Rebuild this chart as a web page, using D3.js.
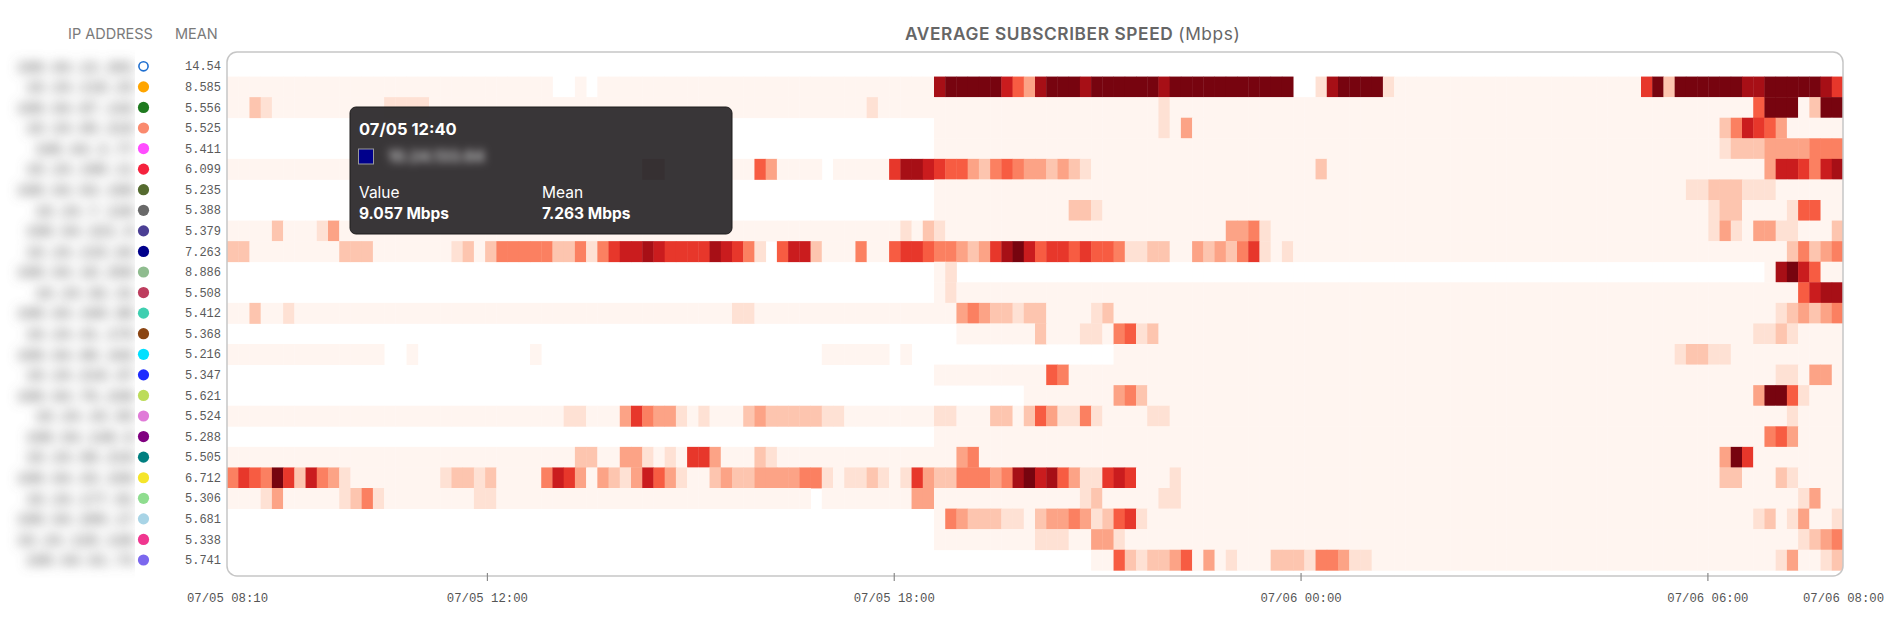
<!DOCTYPE html>
<html>
<head>
<meta charset="utf-8">
<script src="https://cdn.jsdelivr.net/npm/d3@7"></script>
<style>
  html, body { margin: 0; padding: 0; background: #fff; }
  svg { display: block; }
</style>
</head>
<body>
<div id="chart"></div>
<script>
// Heatmap of average subscriber speed, one row per IP, one cell per 10 minutes

// row labels (blurred in the picture)
const ipNames = [
  "100.64.12.201", "10.24.118.23", "100.64.87.142", "10.24.65.210", "100.64.3.77",
  "10.24.190.11", "100.64.54.199", "10.24.7.128", "100.64.221.9", "10.24.133.64",
  "100.64.18.250", "10.24.92.31", "100.64.160.88", "10.24.41.175", "100.64.99.102",
  "10.24.210.47", "100.64.76.230", "10.24.15.93", "100.64.140.6", "10.24.58.219",
  "100.64.33.150", "10.24.177.81", "100.64.205.17", "10.24.120.140", "100.64.61.73"
];
const means = [14.54, 8.585, 5.556, 5.525, 5.411, 6.099, 5.235, 5.388, 5.379, 7.263,
  8.886, 5.508, 5.412, 5.368, 5.216, 5.347, 5.621, 5.524, 5.288, 5.505,
  6.712, 5.306, 5.681, 5.338, 5.741];
const dotColors = ["none", "#ffa500", "#1f7a1f", "#fa8a6e", "#ff4dff", "#f5223d", "#556b2f",
  "#696969", "#4b3f94", "#00008b", "#8fbc8f", "#bd3d5e", "#3ecfb0", "#8b4513", "#00e0ff",
  "#1e2bff", "#bcdc5a", "#e07bd8", "#800080", "#007f80", "#f5e52a", "#8fdd8f", "#a8d4e6",
  "#f0368f", "#7b68ee"];

// time slots: 07/05 08:10 .. 07/06 08:00, every 10 minutes
const startTime = new Date(2024, 6, 5, 8, 10);
const endTime = new Date(2024, 6, 6, 8, 0);
const tickTimes = [startTime, new Date(2024, 6, 5, 12, 0), new Date(2024, 6, 5, 18, 0),
  new Date(2024, 6, 6, 0, 0), new Date(2024, 6, 6, 6, 0), endTime];

// speed level per cell (0 = lowest ... 9 = highest, "." = no sample)
// each row is 12 blocks of 2 hours (12 slots)
const Z = "000000000000";
const D = "............";
const levelRows = [
  [D, D, D, D, D, D, D, D, D, D, D, D],
  [Z, Z, "00000..0.000", Z, Z, "000899999753", "899989999998", "99999999999.", ".18999910000", Z, "000000692999", "999889999986"],
  ["002100000000", "001111000000", Z, Z, "000000000100", Z, "000000000001", Z, Z, Z, Z, "000059990299"],
  [D, D, D, D, D, "...000000000", "000000000001", "030000000000", Z, Z, Z, "024765300000"],
  [D, D, D, D, D, "...000000000", Z, Z, Z, Z, Z, "012223333444"],
  [Z, Z, Z, "099000000005", "30000.000006", "887655324543", "323210000000", Z, "020000000000", Z, Z, "000003776478"],
  [D, D, D, D, D, "...000000000", Z, Z, Z, Z, "000000000011", "222111000000"],
  [D, D, D, D, D, "...000000000", "000221000000", Z, Z, Z, Z, "122000015500"],
  ["000020001300", Z, Z, Z, Z, "102100000000", Z, "000003341000", Z, Z, Z, "131033110002"],
  ["220000000022", "200000001202", "444442241467", "787666687641", ".57720004005", "665443236897", "566565541122", "003232461010", Z, Z, Z, "000000024234"],
  [D, D, D, D, D, "...01.......", D, D, D, D, D, ".....0897500"],
  [D, D, D, D, D, "...010000000", Z, Z, Z, Z, Z, "000000005788"],
  ["002001000000", Z, Z, "000000000110", Z, "000003432212", "200001200000", Z, Z, Z, Z, "000000123234"],
  [D, D, D, D, D, ".....0000000", "200011045120", Z, Z, Z, Z, "000011210000"],
  [Z, "00..0.......", "...0........", D, ".....000000.", "0...........", ".......00000", Z, Z, Z, "000000000122", "110000000000"],
  [D, D, D, D, D, "...000000000", "054000000000", Z, Z, Z, Z, "000000110330"],
  [D, D, D, D, D, "...........0", "000000034200", Z, Z, Z, Z, "000039951000"],
  [Z, Z, "000000110003", "643310100023", "222221100000", "000110002202", "531141000011", Z, Z, Z, Z, "000000010000"],
  [D, D, D, D, D, "...000000000", Z, Z, Z, Z, Z, "000004530000"],
  [Z, Z, "000000022003", "310106630002", "100000000000", "000003400000", Z, Z, Z, Z, Z, "039600000000"],
  ["465496274310", "000000012212", "000047630321", "375310023223", "333441011210", "163224443489", "785311676000", "100000000000", Z, Z, Z, "022000210000"],
  ["000130000012", "410000000011", Z, Z, "0000.0000000", "033000000000", "000012000001", "100000000000", Z, Z, Z, "000000001300"],
  [D, D, D, D, D, "...043222110", "233431256100", Z, Z, Z, Z, "000012013001"],
  [D, D, D, D, D, "...000000000", "111003310000", Z, Z, Z, Z, "000000001234"],
  [D, D, D, D, D, D, ".....0052122", "350301000222", "144311000000", Z, Z, "000000130012"]
];

// hovered cell shown in the tooltip
const tipRow = 9;
const tipTime = "07/05 12:40";
const tipValue = "9.057 Mbps";
const tipIp = "10.24.133.64";

const W = 1889, H = 628;
const plot = { left: 227, right: 1843, top: 52, bottom: 576 };

const slots = d3.timeMinute.every(10).range(startTime, d3.timeMinute.offset(endTime, 1));
const rows = levelRows.map(function (blocks) {
  const s = blocks.join("");
  if (s.length !== slots.length) console.warn("row length", s.length);
  return s.split("").map(function (c) { return c === "." ? null : +c; });
});

const svg = d3.select("#chart").append("svg")
  .attr("width", W).attr("height", H);

const defs = svg.append("defs");
defs.append("clipPath").attr("id", "plotClip")
  .append("rect")
  .attr("x", plot.left).attr("y", plot.top)
  .attr("width", plot.right - plot.left).attr("height", plot.bottom - plot.top)
  .attr("rx", 10);
defs.append("clipPath").attr("id", "nameClip")
  .append("rect").attr("x", 0).attr("y", 40).attr("width", 135).attr("height", 540);
defs.append("filter").attr("id", "blur")
  .attr("filterUnits", "userSpaceOnUse")
  .attr("x", 0).attr("y", 40).attr("width", 160).attr("height", 560)
  .append("feGaussianBlur").attr("stdDeviation", 6);
defs.append("filter").attr("id", "blurTip")
  .attr("x", "-30%").attr("y", "-80%").attr("width", "160%").attr("height", "260%")
  .append("feGaussianBlur").attr("stdDeviation", 4.5);

// scales
const x = d3.scaleBand().domain(d3.range(slots.length)).range([plot.left, plot.right]);
const y = d3.scaleBand().domain(d3.range(ipNames.length)).range([56, 570.3]);
const xTime = d3.scaleTime().domain([startTime, endTime]).range([plot.left, plot.right]);
const color = d3.scaleSequential(d3.interpolateReds).domain([0, 9.3]);

// headers and title
svg.append("text").attr("x", 68).attr("y", 39)
  .style("font", "400 14.5px Inter, 'Noto Sans', sans-serif").style("fill", "#7a7a7a")
  .text("IP ADDRESS");
svg.append("text").attr("x", 175).attr("y", 39)
  .style("font", "400 14.5px Inter, 'Noto Sans', sans-serif").style("fill", "#7a7a7a")
  .text("MEAN");
const title = svg.append("text").attr("x", 905).attr("y", 40)
  .style("font", "600 17.3px Inter, 'Noto Sans', sans-serif").style("fill", "#666")
  .style("letter-spacing", "0.6px");
title.append("tspan").text("AVERAGE SUBSCRIBER SPEED ");
title.append("tspan").style("font-weight", 400).text("(Mbps)");

// heatmap cells
const cells = [];
rows.forEach(function (r, i) {
  r.forEach(function (v, j) { if (v !== null) cells.push({ row: i, col: j, v: v }); });
});
svg.append("g").attr("clip-path", "url(#plotClip)")
  .selectAll("rect")
  .data(cells).enter()
  .append("rect")
  .attr("x", function (d) { return x(d.col); })
  .attr("y", function (d) { return y(d.row); })
  .attr("width", x.bandwidth() + 0.4)
  .attr("height", y.bandwidth() + 0.4)
  .style("fill", function (d) { return color(d.v); });

svg.append("rect")
  .attr("x", plot.left).attr("y", plot.top)
  .attr("width", plot.right - plot.left).attr("height", plot.bottom - plot.top)
  .attr("rx", 10)
  .style("fill", "none").style("stroke", "#c6c6c6").style("stroke-width", 1.5);

// row labels: blurred ip, colour dot, mean
const rowCenter = function (i) { return y(i) + y.bandwidth() / 2; };

svg.append("g").attr("clip-path", "url(#nameClip)")
  .append("g").attr("filter", "url(#blur)")
  .selectAll("text")
  .data(ipNames).enter()
  .append("text")
  .attr("x", 134)
  .attr("y", function (d, i) { return rowCenter(i); })
  .attr("dy", "0.35em")
  .attr("text-anchor", "end")
  .style("font", "600 15px 'Liberation Mono', monospace")
  .style("fill", "#6e6e6e")
  .text(function (d) { return d; });

svg.append("g")
  .selectAll("circle")
  .data(dotColors).enter()
  .append("circle")
  .attr("cx", 143.5)
  .attr("cy", function (d, i) { return rowCenter(i); })
  .attr("r", function (d) { return d === "none" ? 4.6 : 5.6; })
  .style("fill", function (d) { return d === "none" ? "#fff" : d; })
  .style("stroke", function (d) { return d === "none" ? "#1f6fd0" : "none"; })
  .style("stroke-width", 1.6);

svg.append("g")
  .selectAll("text")
  .data(means).enter()
  .append("text")
  .attr("x", 221)
  .attr("y", function (d, i) { return rowCenter(i); })
  .attr("dy", "0.35em")
  .attr("text-anchor", "end")
  .style("font", "12px 'Liberation Mono', monospace")
  .style("fill", "#5a5a5a")
  .text(function (d) { return d; });

// time axis
const fmt = d3.timeFormat("%m/%d %H:%M");
const axis = svg.append("g")
  .attr("transform", "translate(0," + 573 + ")")
  .call(d3.axisBottom(xTime).tickValues(tickTimes).tickFormat(fmt).tickSize(8).tickPadding(12));
axis.select(".domain").remove();
axis.selectAll(".tick line")
  .style("stroke", "#8a8a8a").style("stroke-width", 1.2)
  .style("opacity", function (d, i) { return (i === 0 || i === tickTimes.length - 1) ? 0 : 1; });
axis.selectAll(".tick text")
  .style("font", "12.3px 'Liberation Mono', monospace")
  .style("fill", "#555");

// tooltip for the hovered cell
const tip = svg.append("g").attr("transform", "translate(350,107)");
tip.append("rect")
  .attr("width", 382).attr("height", 127).attr("rx", 6)
  .style("fill", "#343133").style("fill-opacity", 0.975)
  .style("stroke", "#1e1c1d").style("stroke-width", 1);
tip.append("text").attr("x", 9).attr("y", 28)
  .style("font", "700 16.5px Inter, 'Noto Sans', sans-serif").style("fill", "#fff")
  .text(tipTime);
tip.append("rect").attr("x", 8.5).attr("y", 42).attr("width", 15).attr("height", 15)
  .style("fill", dotColors[tipRow]).style("stroke", "#9a9a9a").style("stroke-width", 1);
tip.append("text").attr("x", 38).attr("y", 55).attr("filter", "url(#blurTip)")
  .style("font", "700 15.5px Inter, 'Noto Sans', sans-serif").style("fill", "#c4c4c4")
  .text(tipIp);
tip.append("text").attr("x", 9).attr("y", 91)
  .style("font", "400 15.5px Inter, 'Noto Sans', sans-serif").style("fill", "#fff")
  .text("Value");
tip.append("text").attr("x", 9).attr("y", 112)
  .style("font", "700 15.5px Inter, 'Noto Sans', sans-serif").style("fill", "#fff")
  .text(tipValue);
tip.append("text").attr("x", 192).attr("y", 91)
  .style("font", "400 15.5px Inter, 'Noto Sans', sans-serif").style("fill", "#fff")
  .text("Mean");
tip.append("text").attr("x", 192).attr("y", 112)
  .style("font", "700 15.5px Inter, 'Noto Sans', sans-serif").style("fill", "#fff")
  .text(means[tipRow] + " Mbps");
</script>
</body>
</html>
